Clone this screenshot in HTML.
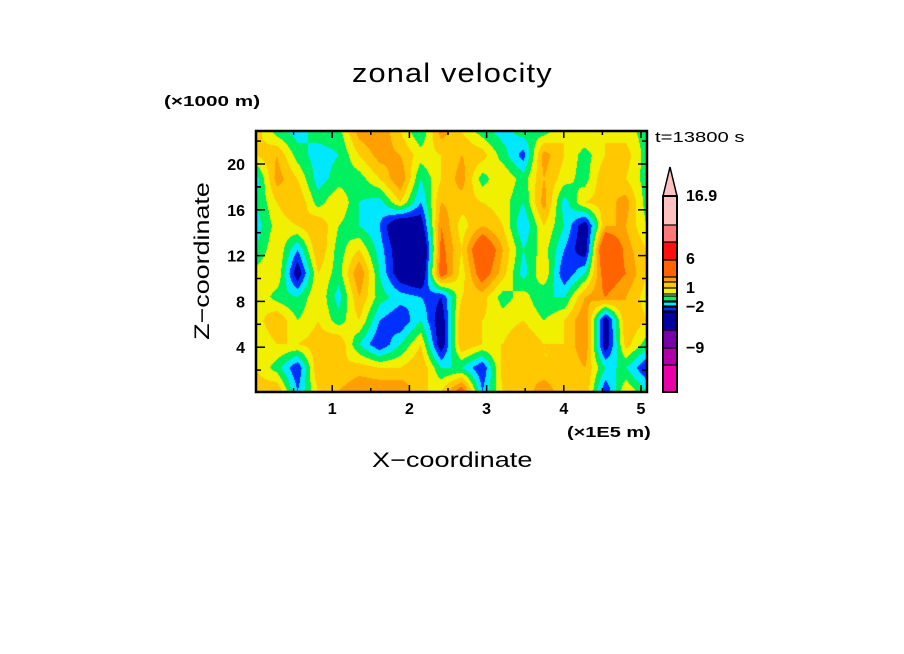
<!DOCTYPE html>
<html><head><meta charset="utf-8"><style>
body{margin:0;background:#fff;width:904px;height:654px;overflow:hidden}
.t{position:absolute;font-family:"Liberation Sans",sans-serif;color:#000;white-space:nowrap;transform-origin:0 0}
</style></head><body>
<div style="position:relative;width:904px;height:654px">
<div class="t" style="left:352px;top:58px;font-size:27px;letter-spacing:1px;transform:scaleX(1.14)">zonal velocity</div>
<div class="t" style="left:164px;top:93px;font-size:15px;font-weight:bold;transform:scaleX(1.38)">(×1000 m)</div>
<div class="t" style="left:655px;top:129px;font-size:15px;transform:scaleX(1.35)">t=13800 s</div>
<div class="t" style="left:567px;top:424px;font-size:15px;font-weight:bold;transform:scaleX(1.33)">(×1E5 m)</div>
<div class="t" style="left:372px;top:449px;font-size:21px;transform:scaleX(1.29)">X−coordinate</div>
<div class="t" style="left:203px;top:261px;font-size:21px;transform-origin:50% 50%;transform:translate(-50%,-50%) rotate(-90deg) scaleX(1.28)">Z−coordinate</div>
<canvas id="cv" width="904" height="654" style="position:absolute;left:0;top:0"></canvas>
<svg id="sv" width="904" height="654" style="position:absolute;left:0;top:0"></svg>
</div>
<script>
const xTicks=[1,2,3,4,5];
const zTicks=[4,8,12,16,20];
const levelBounds=[-12,-9,-6,-3,-2,-1,0,1,2,3,6,10,14];
const levelColors=["#e800a8","#b000a8","#7800a8","#0000a0","#0030ff","#00e8ff","#00f060","#f0f000","#ffc800","#ffa000","#ff6400","#ff1010","#ff7878","#ffc0c0"];
const cbarLabels=["16.9","6","1","−2","−9"];
const gridRows=[
[1.5,-0.5,-1.5,-0.5,-0.5,2.5,3,1,-1,2.5,1,-0.5,-1.5,-0.5,-0.5,1,1,1,0.5,-0.5],
[1,2,-0.5,-1.5,-1,1,2.5,2,0.5,1,2,1.5,-0.5,-2.5,2.5,1,-0.5,1,1.5,-0.5],
[-1.5,2.5,1,-1.5,-0.5,-0.5,1,3,-1,1,2.5,-0.5,1,-0.5,2,0.5,-0.5,2,1,-0.5],
[-1,1,2,-0.5,1,-1,-1.5,1,-2,2,1.5,1,0.5,-1,2.5,-1.5,1,1.5,2.5,-0.5],
[-1.5,0.5,1,2,0,-1,-2,-5,-4,3,0.5,2,1,-2,1,-1,-4,2,2,0],
[-1,1,-2,2,-0.5,1,-1.5,-4,-6,3.5,1,5,2,-1,0.5,-2,-4,6,2.5,1],
[0.5,1,-4,1,-0.5,3,-1,-4,-5,4,0.5,4,1.5,-1.5,1,-3,-1,4,3,1],
[1,-0.5,-1,1,-1.5,2,-0.5,-1.5,-2,-3,1,1.5,-0.5,0.5,-1,-1,2,3,2,0.5],
[0.5,2,0,1,-0.5,1,-2,-3,-1,-4,2,1,0.5,1,0,1,3,-4,2,1],
[0,1,1,1.5,2,-1,-3,-1,1,-4,2,1,1,2,1,1,3,-4,1.5,-0.5],
[1,-0.5,-3,2,1,1.5,1,1,2,-1,-1,-3,1.5,2,1,1,2,-1,-1,-3],
[1.5,2,-2,1,2,3,3,3,1,1,4,-2,1,1,3,1,2,-3,1,-1]];
const L=256,R=647,T=131,B=392;
const xS=v=>255+v*77.2, zS=v=>393-v*11.45;
function lvl(v){let i=0;while(i<levelBounds.length&&v>=levelBounds[i])i++;return i;}
function hex(c){return [parseInt(c.substr(1,2),16),parseInt(c.substr(3,2),16),parseInt(c.substr(5,2),16)];}
const cv=document.getElementById('cv'),ctx=cv.getContext('2d');
const W=R-L,H=B-T,img=ctx.createImageData(W,H),nr=gridRows.length,nc=gridRows[0].length;
for(let y=0;y<H;y++)for(let x=0;x<W;x++){
 const gx=x/(W-1)*(nc-1),gy=y/(H-1)*(nr-1);
 const i0=Math.min(nc-2,Math.floor(gx)),j0=Math.min(nr-2,Math.floor(gy)),fx=gx-i0,fy=gy-j0;
 const v=gridRows[j0][i0]*(1-fx)*(1-fy)+gridRows[j0][i0+1]*fx*(1-fy)+gridRows[j0+1][i0]*(1-fx)*fy+gridRows[j0+1][i0+1]*fx*fy;
 const c=hex(levelColors[lvl(v)]),k=(y*W+x)*4;
 img.data[k]=c[0];img.data[k+1]=c[1];img.data[k+2]=c[2];img.data[k+3]=255;}
ctx.putImageData(img,L,T);
const sv=document.getElementById('sv'),NS='http://www.w3.org/2000/svg';
function mk(t,a,p){const e=document.createElementNS(NS,t);for(const k in a)e.setAttribute(k,a[k]);(p||sv).appendChild(e);return e;}
const fr=mk('rect',{x:L,y:T,width:W,height:H,fill:'none',stroke:'#000','stroke-width':2.5});


for(let v=0.5;v<5.1;v+=0.5){const x=xS(v),len=(v%1===0)?7:4;
 mk('line',{x1:x,x2:x,y1:B,y2:B-len,stroke:'#000','stroke-width':1.5});
 mk('line',{x1:x,x2:x,y1:T,y2:T+len,stroke:'#000','stroke-width':1.5});}
for(let v=2;v<23;v+=2){const y=zS(v),len=(v%4===0)?9:5;
 mk('line',{x1:L,x2:L+len,y1:y,y2:y,stroke:'#000','stroke-width':1.5});
 mk('line',{x1:R,x2:R-len,y1:y,y2:y,stroke:'#000','stroke-width':1.5});}
xTicks.forEach(v=>{const t=mk('text',{x:xS(v),y:414,'text-anchor':'middle','font-family':'Liberation Sans','font-size':16,'font-weight':'bold'});t.textContent=v;
 
 });
zTicks.forEach(v=>{const t=mk('text',{x:245,y:zS(v)+6,'text-anchor':'end','font-family':'Liberation Sans','font-size':16,'font-weight':'bold'});t.textContent=v;
 
 });
const segs=[[365,392],[348,365],[330,348],[312,330],[307,311],[302,306],[296,301],[288,294],[282,288],[277,282],[260,277],[242,260],[225,242],[196,225]];
const cb=mk('g',{});


segs.forEach((s,i)=>mk('rect',{x:663,y:s[0],width:14,height:s[1]-s[0],fill:levelColors[i]},cb));
mk('polygon',{points:'663,196 670,167 677,196',fill:'#ffc0c0',stroke:'#000','stroke-width':1.5},cb);
mk('rect',{x:663,y:196,width:14,height:196,fill:'none',stroke:'#000','stroke-width':2},cb);
[196,225,242,260,277,282,288,294,296,301,302,306,307,311,312,330,348,365].forEach(y=>mk('line',{x1:663,x2:677,y1:y,y2:y,stroke:'#000','stroke-width':1.2},cb));
const cbY=[201,264,293,312,353];
cbarLabels.forEach((s,i)=>{const t=mk('text',{x:686,y:cbY[i],'font-family':'Liberation Sans','font-size':16,'font-weight':'bold'},cb);t.textContent=s;
 
 });
</script>
</body></html>
